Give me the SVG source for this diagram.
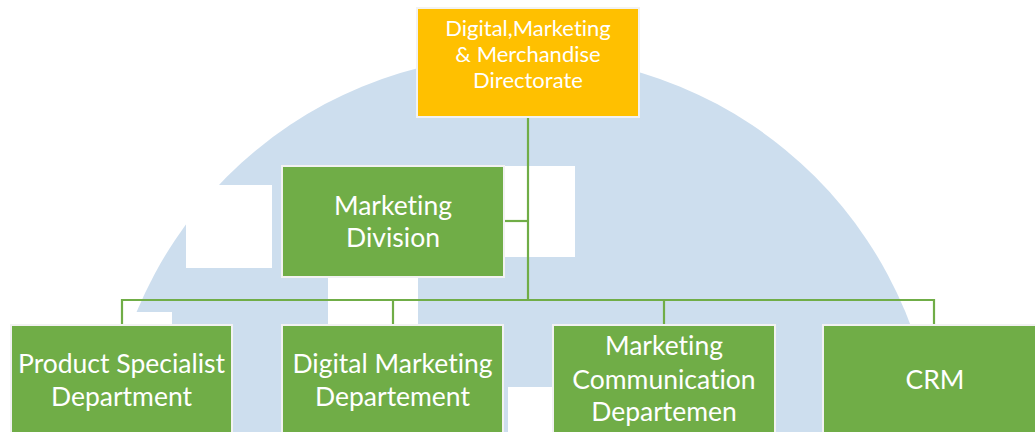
<svg xmlns="http://www.w3.org/2000/svg" width="1035" height="432" viewBox="0 0 1035 432">
  <style>
    .box { stroke: #f2f2f2; stroke-width: 2; }
    .green { fill: #70ad47; }
    .gold { fill: #ffc000; }
    .t { fill: #ffffff; font-family: Lato, "Liberation Sans", sans-serif; text-anchor: middle; font-variant-ligatures: none; font-feature-settings: "liga" 0, "clig" 0; }
    .tl { font-size: 22px; }
    .tm { font-size: 26.5px; }
    .conn { stroke: #70ad47; stroke-width: 2.2; fill: none; }
  </style>
  <rect x="0" y="0" width="1035" height="432" fill="#ffffff"/>
  <g id="watermark">
    <circle cx="521" cy="471" r="416" fill="#cddeee"/>
    <rect x="186" y="185" width="86" height="83" fill="#ffffff"/>
    <rect x="503" y="166" width="72" height="91" fill="#ffffff"/>
    <rect x="328" y="277" width="90" height="50" fill="#ffffff"/>
    <rect x="90" y="312" width="82" height="120" fill="#ffffff"/>
    <rect x="508" y="387" width="50" height="45" fill="#ffffff"/>
  </g>
  <g id="connectors">
    <path class="conn" d="M528 117 V300"/>
    <path class="conn" d="M504 221 H528"/>
    <path class="conn" d="M122 325 V300 H934 V325"/>
    <path class="conn" d="M393 300 V325"/>
    <path class="conn" d="M664 300 V325"/>
  </g>
  <g id="directorate">
    <rect class="box gold" x="417" y="8" width="222" height="109"/>
    <text class="t tl" x="528" y="36">Digital,Marketing</text>
    <text class="t tl" x="528" y="62">&amp; Merchandise</text>
    <text class="t tl" x="528" y="88">Directorate</text>
  </g>
  <g id="marketing-division">
    <rect class="box green" x="282" y="166" width="222" height="111"/>
    <text class="t tm" x="393" y="215">Marketing</text>
    <text class="t tm" x="393" y="247">Division</text>
  </g>
  <g id="product-specialist">
    <rect class="box green" x="11" y="325" width="221" height="112"/>
    <text class="t tm" x="121.5" y="373">Product Specialist</text>
    <text class="t tm" x="121.5" y="405.5">Department</text>
  </g>
  <g id="digital-marketing">
    <rect class="box green" x="282" y="325" width="221" height="112"/>
    <text class="t tm" x="392.5" y="373">Digital Marketing</text>
    <text class="t tm" x="392.5" y="405.5">Departement</text>
  </g>
  <g id="marketing-communication">
    <rect class="box green" x="553" y="325" width="222" height="112"/>
    <text class="t tm" x="664" y="355">Marketing</text>
    <text class="t tm" x="664" y="389">Communication</text>
    <text class="t tm" x="664" y="421">Departemen</text>
  </g>
  <g id="crm">
    <rect class="box green" x="823" y="325" width="222" height="112"/>
    <text class="t tm" x="935" y="389">CRM</text>
  </g>
</svg>
